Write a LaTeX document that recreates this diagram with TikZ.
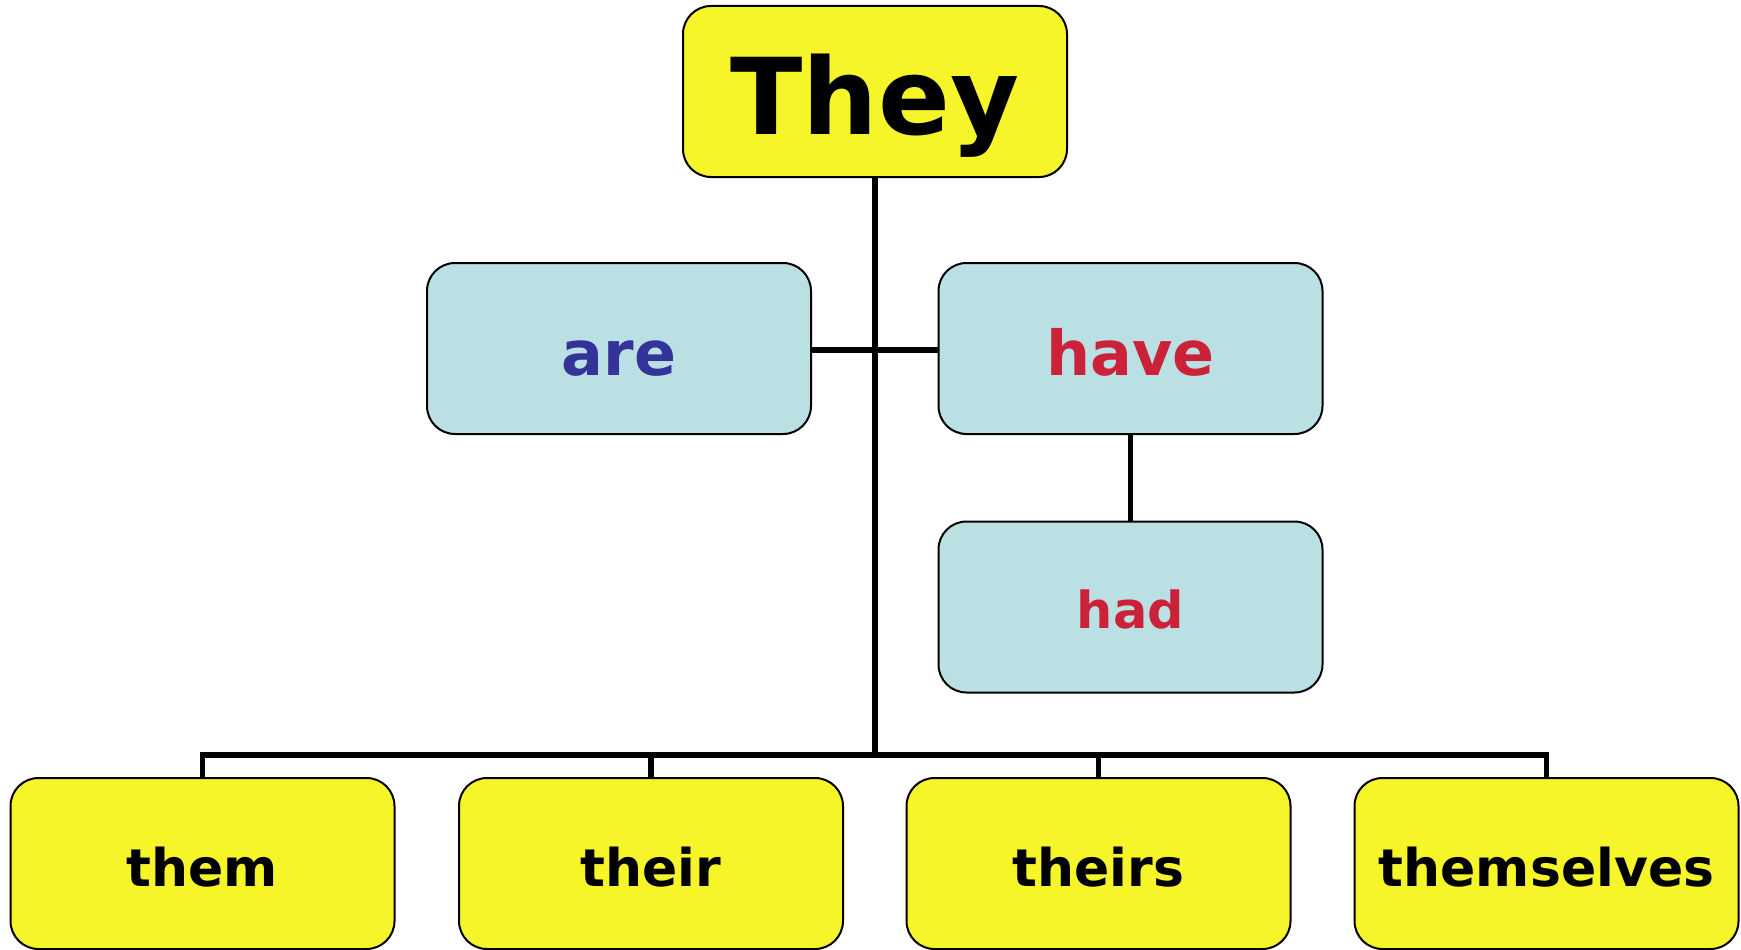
\documentclass[tikz,border=0pt]{standalone}
\usepackage{fontspec}
\setmainfont{DejaVu Sans}
\definecolor{boxyellow}{HTML}{F5F52A}
\definecolor{boxblue}{HTML}{BBE0E3}
\definecolor{txtblue}{HTML}{333399}
\definecolor{txtred}{HTML}{CC2239}
\tikzset{
  wbox/.style={draw=black, line width=2pt, rounded corners=28pt, minimum width=384pt, minimum height=171pt, inner sep=0pt, font=\bfseries, text depth=0pt},
  ybox/.style={wbox, fill=boxyellow},
  bbox/.style={wbox, fill=boxblue},
  conn/.style={line width=5.5pt, draw=black}
}
\begin{document}
\begin{tikzpicture}[x=1pt,y=-1pt]
\useasboundingbox (0,0) rectangle (1741,950);
\coordinate (busmid) at (875,755);
\coordinate (armid) at (875,350);
\node[ybox, text height=85pt] (they) at (875,91.5) {\fontsize{106}{110}\selectfont They};
\node[bbox, text height=53pt] (are) at (619,348.5) {\fontsize{62}{70}\selectfont\color{txtblue}are};
\node[bbox, text height=53pt] (have) at (1130.5,348.5) {\fontsize{62}{70}\selectfont\color{txtred}have};
\node[bbox, text height=42pt] (had) at (1130.5,607) {\fontsize{51}{60}\selectfont\color{txtred}had};
\node[ybox, text height=46pt] (them) at (202.5,863.5) {\fontsize{52}{60}\selectfont them};
\node[ybox, text height=46pt] (their) at (651,863.5) {\fontsize{52}{60}\selectfont their};
\node[ybox, text height=46pt] (theirs) at (1098.5,863.5) {\fontsize{52}{60}\selectfont theirs};
\node[ybox, text height=46pt] (themselves) at (1546.5,863.5) {\fontsize{52}{60}\selectfont themselves};
\draw[conn] (they.south) -- (busmid);
\draw[conn] (are.east |- armid) -- (have.west |- armid);
\draw[conn] (have.south) -- (had.north);
\draw[conn] (them.north) -- (them.north |- busmid) -- (themselves.north |- busmid) -- (themselves.north);
\draw[conn] (their.north) -- (their.north |- busmid);
\draw[conn] (theirs.north) -- (theirs.north |- busmid);
\end{tikzpicture}
\end{document}
